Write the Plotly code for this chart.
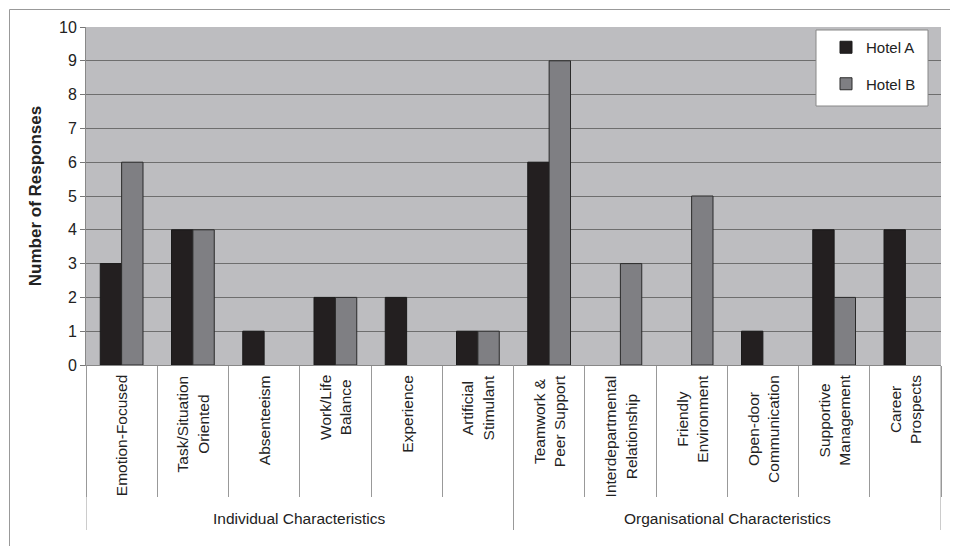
import plotly.graph_objects as go

categories = ["Emotion-Focused", "Task/Situation<br>Oriented", "Absenteeism", "Work/Life<br>Balance",
              "Experience", "Artificial<br>Stimulant", "Teamwork &<br>Peer Support",
              "Interdepartmental<br>Relationship", "Friendly<br>Environment", "Open-door<br>Communication",
              "Supportive<br>Management", "Career<br>Prospects"]
groups = ["Individual Characteristics"] * 6 + ["Organisational Characteristics"] * 6
hotel_a = [3, 4, 1, 2, 2, 1, 6, 0, 0, 1, 4, 4]
hotel_b = [6, 4, 0, 2, 0, 1, 9, 3, 5, 0, 2, 0]
y_ticks = list(range(0, 11))

FONT = "Liberation Sans, Arial, sans-serif"
OFF = 8  # default page body margin

# geometry of the plot area in screen pixels
PL, PR, PT, PB = 86, 941, 27, 365
W, H = 958 - OFF, 546 - OFF
PW, PH = PR - PL, PB - PT


def px(x):
    return (x - PL) / PW


def py(y):
    return (PB - y) / PH


fig = go.Figure()
fig.add_trace(go.Bar(x=categories, y=hotel_a, name="Hotel A", legendgroup="a",
                     marker=dict(color="#231f20",
                                 line=dict(color="#1a1a1a", width=[1 if v else 0 for v in hotel_a]))))
fig.add_trace(go.Bar(x=categories, y=hotel_b, name="Hotel B", legendgroup="b",
                     marker=dict(color="#7f7f83",
                                 line=dict(color="#2a2a2a", width=[1 if v else 0 for v in hotel_b]))))

annotations = []
for i, c in enumerate(categories):
    annotations.append(dict(x=i, y=0, xref="x", yref="paper", text=c, showarrow=False,
                            textangle=-90, yanchor="top", xanchor="center", yshift=-8,
                            align="center", font=dict(family=FONT, size=15.5, color="#222")))

shapes = []
ordered = []
for g in groups:
    if g not in ordered:
        ordered.append(g)
for g in ordered:
    members = [i for i, gg in enumerate(groups) if gg == g]
    annotations.append(dict(x=sum(members) / len(members), y=py(519), xref="x", yref="paper",
                            text=g, showarrow=False, yanchor="middle", xanchor="center",
                            font=dict(family=FONT, size=15.5, color="#222")))
bounds = sorted(set([min(i for i, gg in enumerate(groups) if gg == g) - 0.5 for g in ordered] +
                    [len(groups) - 0.5]))
for b in bounds:
    shapes.append(dict(type="line", xref="x", yref="paper", x0=b, x1=b, y0=0, y1=py(530),
                       line=dict(color="#999999", width=1)))

# outer frame (top and left)
shapes.append(dict(type="line", xref="paper", yref="paper", x0=px(9.5), x1=px(960), y0=py(9.5), y1=py(9.5),
                   line=dict(color="#999999", width=1)))
shapes.append(dict(type="line", xref="paper", yref="paper", x0=px(9.5), x1=px(9.5), y0=py(9.5), y1=py(550),
                   line=dict(color="#999999", width=1)))
# legend box
shapes.append(dict(type="rect", xref="paper", yref="paper", x0=px(816), x1=px(928), y0=py(106), y1=py(30),
                   fillcolor="white", line=dict(color="#888888", width=1), layer="above"))

fig.update_layout(
    width=W, height=H,
    margin=dict(l=PL - OFF, r=W + OFF - PR, t=PT - OFF, b=H + OFF - PB),
    paper_bgcolor="white", plot_bgcolor="#bdbdc0",
    barmode="group", bargap=0.4, bargroupgap=0,
    font=dict(family=FONT, size=15, color="#222"),
    showlegend=True,
    legend=dict(x=px(826), y=py(31), xanchor="left", yanchor="top", bgcolor="rgba(0,0,0,0)",
                borderwidth=0, tracegroupgap=14,
                font=dict(family=FONT, size=15, color="#222")),
    annotations=annotations,
    shapes=shapes,
)
fig.update_xaxes(type="category", range=[-0.5, len(categories) - 0.5], showticklabels=False,
                 tickson="boundaries", ticks="outside", ticklen=131,
                 tickcolor="#999999", tickwidth=1, showgrid=False, zeroline=False,
                 showline=True, linecolor="#888888", linewidth=1)
fig.update_yaxes(range=[0, 10], tickvals=y_ticks, ticks="outside", ticklen=5, tickcolor="#777777",
                 showgrid=True, gridcolor="#6e6e6e", gridwidth=1, zeroline=False,
                 showline=True, linecolor="#888888", linewidth=1,
                 tickfont=dict(family=FONT, size=16, color="#222"),
                 title=dict(text="<b>Number of Responses</b>", standoff=13,
                            font=dict(family=FONT, size=17, color="#222")))

fig.write_html("out.html")
